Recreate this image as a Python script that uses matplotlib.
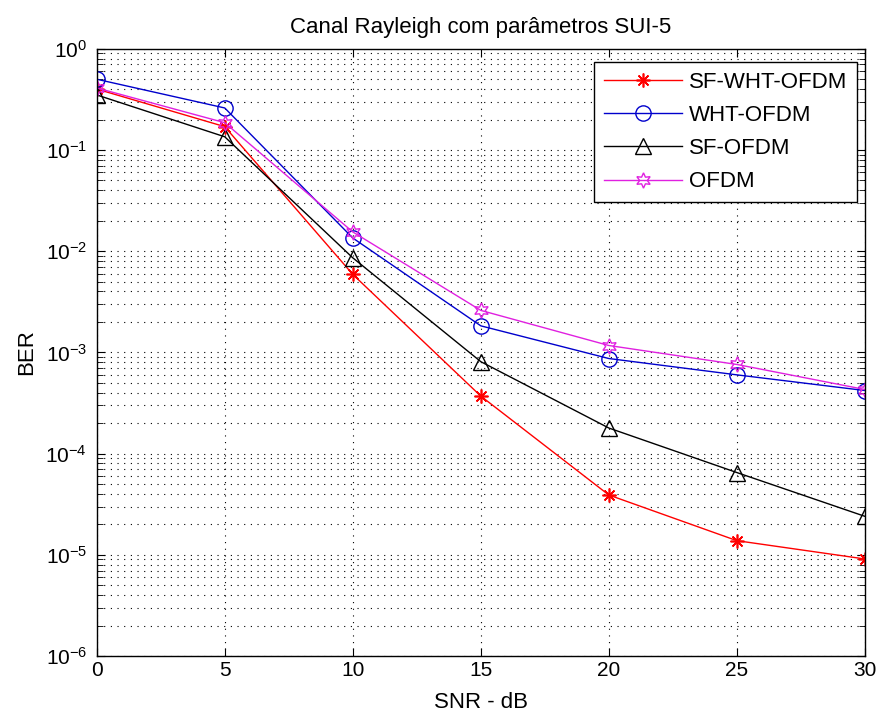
import matplotlib
matplotlib.use('Agg')
import matplotlib.pyplot as plt
from matplotlib.ticker import LogLocator, NullFormatter

plt.rcParams['font.family'] = ['Liberation Sans', 'DejaVu Sans']
plt.rcParams['mathtext.fontset'] = 'custom'
plt.rcParams['mathtext.rm'] = 'Liberation Sans'

snr = [0, 5, 10, 15, 20, 25, 30]
ber_sf_wht = [0.40, 0.17, 0.0059, 3.7e-4, 3.9e-5, 1.38e-5, 9.1e-6]
ber_wht = [0.50, 0.26, 0.0135, 1.83e-3, 8.7e-4, 6.0e-4, 4.2e-4]
ber_sf = [0.35, 0.135, 0.0086, 8.1e-4, 1.79e-4, 6.5e-5, 2.4e-5]
ber_ofdm = [0.41, 0.186, 0.0155, 2.6e-3, 1.17e-3, 7.6e-4, 4.3e-4]
y_ticks = [1e-6, 1e-5, 1e-4, 1e-3, 1e-2, 1e-1, 1e0]

fig = plt.figure(figsize=(8.79, 7.17), dpi=100)
ax = fig.add_axes([0.110, 0.085, 0.874, 0.847])

ax.semilogy(snr, ber_sf_wht, color='red', lw=1, marker=(8, 2, 0), ms=10, mew=1.2, label='SF-WHT-OFDM')
ax.semilogy(snr, ber_wht, color='#0000cc', lw=1, marker='o', ms=11, mfc='none', label='WHT-OFDM')
ax.semilogy(snr, ber_sf, color='black', lw=1, marker='^', ms=11, mfc='none', label='SF-OFDM')
ax.semilogy(snr, ber_ofdm, color='#e020e0', lw=1, marker=(6, 1, 0), ms=11, mfc='none', label='OFDM')

ax.set_xlim(0, 30)
ax.set_ylim(1e-6, 1)
ax.set_xticks(snr)
ax.set_yticks(y_ticks)
ax.yaxis.set_minor_locator(LogLocator(base=10, subs=range(2, 10), numticks=20))
ax.yaxis.set_minor_formatter(NullFormatter())
ax.tick_params(which='both', direction='in', top=True, right=True, labelsize=15)
ax.tick_params(which='minor', labelleft=False)
ax.tick_params(axis='y', pad=7)
ax.tick_params(which='major', length=6)
ax.tick_params(which='minor', length=4)
ax.grid(True, which='both', color='black', linestyle=(0, (1, 5)), linewidth=0.8)

ax.set_title('Canal Rayleigh com parâmetros SUI-5', fontsize=16, pad=11)
ax.set_xlabel('SNR - dB', fontsize=16, labelpad=9)
ax.set_ylabel('BER', fontsize=16, labelpad=6)

leg = ax.legend(loc='upper right', bbox_to_anchor=(0.9896, 0.9786), borderaxespad=0,
                fontsize=16, fancybox=False, edgecolor='black', framealpha=1,
                handlelength=3.5, handletextpad=0.3, borderpad=0.45, labelspacing=0.55)
leg.get_frame().set_linewidth(1)

for s in ax.spines.values():
    s.set_linewidth(1)

plt.savefig('out.png', dpi=100)
